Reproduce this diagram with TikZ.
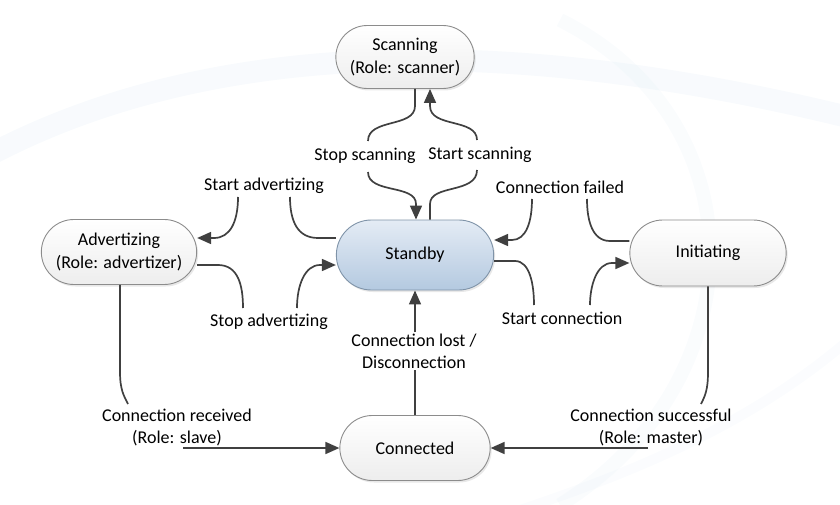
\documentclass[tikz,border=0pt]{standalone}
\usepackage{fontspec}
\setmainfont{Carlito}
\usetikzlibrary{arrows.meta,shapes.misc,shadows}
\definecolor{linecol}{HTML}{404040}
\definecolor{bordercol}{HTML}{8C8C8C}
\definecolor{stbtop}{HTML}{E4ECF5}
\definecolor{stbbot}{HTML}{B4C9E0}
\definecolor{stbborder}{HTML}{7F93A8}
\definecolor{swoosh}{HTML}{D6E6F2}
\tikzset{
  state/.style={rounded rectangle, draw=bordercol, line width=0.9pt,
    top color=white, bottom color=gray!14, align=center,
    font=\fontsize{18}{23}\selectfont,
    drop shadow={opacity=0.18, shadow xshift=1.5pt, shadow yshift=-2pt}},
  standbystate/.style={state, top color=stbtop, bottom color=stbbot, draw=stbborder},
  lbl/.style={align=center, font=\fontsize{18}{22}\selectfont, inner sep=1pt},
  conn/.style={draw=linecol, line width=1.7pt},
  arr/.style={conn, -{Triangle[length=14pt,width=12pt]}},
}
\begin{document}
\begin{tikzpicture}[x=1pt,y=-1pt]
\useasboundingbox (0,0) rectangle (840,505);
% faint background swooshes
\begin{scope}[opacity=0.18]
\draw[swoosh, line width=22pt] (-20,160) .. controls (200,40) and (500,30) .. (860,120);
\draw[swoosh!70, line width=14pt] (560,20) .. controls (760,120) and (760,380) .. (560,505);
\draw[swoosh!60, line width=10pt] (860,330) .. controls (760,420) and (640,470) .. (520,510);
\end{scope}

% states
\node[state, minimum width=145pt, minimum height=63pt] (scan) at (405,57) {Scanning\\(Role: scanner)};
\node[standbystate, minimum width=164pt, minimum height=70pt] (standby) at (415,255) {Standby};
\node[state, minimum width=162pt, minimum height=65pt] (adv) at (119,252) {Advertizing\\(Role: advertizer)};
\node[state, minimum width=163pt, minimum height=66pt] (init) at (708,253) {Initiating};
\node[state, minimum width=157pt, minimum height=65pt] (conn) at (415,448) {Connected};

% labels
\node[lbl] (lstop) at (365,156) {Stop scanning};
\node[lbl] (lstart) at (480,155) {Start scanning};
\node[lbl] (lsadv) at (264,186) {Start advertizing};
\node[lbl] (lpadv) at (269,322) {Stop advertizing};
\node[lbl] (lfail) at (560,187) {Connection failed};
\node[lbl] (lscon) at (562,318) {Start connection};
\node[lbl] (llost) at (414,351) {Connection lost /\\Disconnection};
\node[lbl] (lrecv) at (177,427) {Connection received\\(Role: slave)};
\node[lbl] (lsucc) at (651,427) {Connection successful\\(Role: master)};

% Stop scanning: scan -> standby
\draw[conn] ([xshift=10pt]scan.south) -- (415,106) .. controls (415,128) and (368,118) .. (368,141);
\draw[arr] (368,172) .. controls (368,194) and (416,184) .. (416,204) -- ([xshift=1pt]standby.north);
% Start scanning: standby -> scan
\draw[conn] ([xshift=15pt]standby.north) -- (430,204) .. controls (430,184) and (477,194) .. (477,170);
\draw[arr] (477,140) .. controls (477,118) and (430,128) .. (430,106) -- ([xshift=25pt]scan.south);

% Start advertizing: standby -> adv
\draw[conn] ([yshift=17pt]standby.west) -- (318,238) .. controls (298,238) and (290,222) .. (290,197);
\draw[arr] (238,197) .. controls (238,222) and (230,238) .. (214,238) -- ([yshift=14pt]adv.east);
% Stop advertizing: adv -> standby
\draw[conn] ([yshift=-13pt]adv.east) -- (218,265) .. controls (238,265) and (243,285) .. (243,308);
\draw[arr] (297,308) .. controls (297,285) and (305,265) .. (320,265) -- ([yshift=-10pt]standby.west);

% Connection failed: init -> standby
\draw[conn] ([yshift=12pt]init.west) -- (610,241) .. controls (592,241) and (587,220) .. (587,199);
\draw[arr] (532,199) .. controls (532,222) and (526,240) .. (512,240) -- ([yshift=15pt]standby.east);
% Start connection: standby -> init
\draw[conn] ([yshift=-6pt]standby.east) -- (515,261) .. controls (530,261) and (534,285) .. (534,305);
\draw[arr] (590,305) .. controls (590,285) and (597,263) .. (612,263) -- ([yshift=-10pt]init.west);

% Connection lost: connected -> standby
\draw[conn] (conn.north) -- (conn.north |- llost.south);
\draw[arr] (conn.north |- llost.north) -- (standby.south -| conn.north);

% Connection received: adv -> connected
\draw[conn] ([xshift=1pt]adv.south) -- (120,372) .. controls (120,390) and (124,396) .. (128,404);
\draw[arr] (183,448) -- (conn.west);
% Connection successful: init -> connected
\draw[conn] (init.south) -- (708,372) .. controls (708,390) and (705,396) .. (701,404);
\draw[arr] (648,448) -- (conn.east);
\end{tikzpicture}
\end{document}
